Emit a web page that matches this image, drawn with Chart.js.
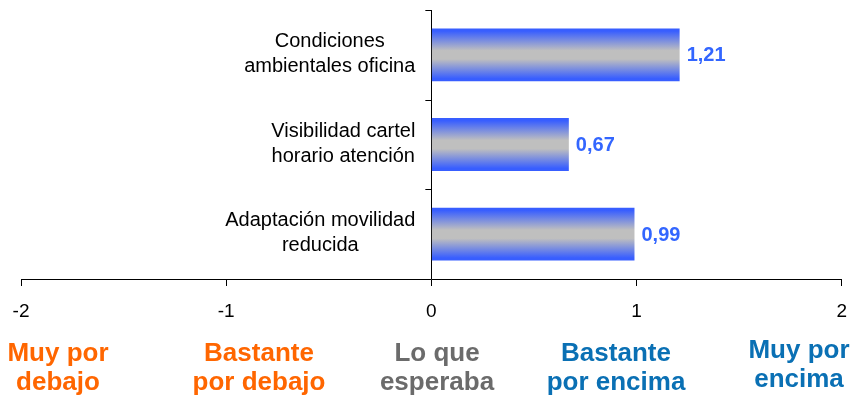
<!DOCTYPE html>
<html lang="es">
<head>
<meta charset="utf-8">
<title>Valoración de las instalaciones</title>
<script src="https://cdn.jsdelivr.net/npm/chart.js@4.4.1/dist/chart.umd.min.js"></script>
<style>
  html, body { margin: 0; padding: 0; background: #fff; }
  #grafico { display: block; }
</style>
</head>
<body>
<canvas id="grafico" width="858" height="397"></canvas>
<script>
  "use strict";

  // datos
  const categorias = [
    ["Condiciones", "ambientales oficina"],
    ["Visibilidad cartel", "horario atención"],
    ["Adaptación movilidad", "reducida"]
  ];
  const valores = [1.21, 0.67, 0.99];
  const marcasX = [-2, -1, 0, 1, 2];
  const escala = [
    ["Muy por", "debajo"],
    ["Bastante", "por debajo"],
    ["Lo que", "esperaba"],
    ["Bastante", "por encima"],
    ["Muy por", "encima"]
  ];

  // estilo
  const FUENTE = "'Liberation Sans', Arial, sans-serif";
  const AZUL = "#385eff";
  const GRIS = "#bfbfbf";
  const GROSOR = 0.59;
  const coloresEscala = ["#ff6600", "#ff6600", "#6b6b6b", "#0a70b4", "#0a70b4"];
  const posEscala = [58, 259, 437, 616, 799];

  // degradado vertical de cada barra: azul - gris - azul
  function degradado(ctx) {
    const chart = ctx.chart;
    const area = chart.chartArea;
    const y = chart.scales.y;
    if (!area || !y || ctx.dataIndex === undefined) return AZUL;
    const centro = y.getPixelForValue(ctx.dataIndex);
    const alto = (area.bottom - area.top) / valores.length * GROSOR;
    const g = chart.ctx.createLinearGradient(0, centro - alto / 2, 0, centro + alto / 2);
    g.addColorStop(0, AZUL);
    g.addColorStop(0.05, AZUL);
    g.addColorStop(0.42, GRIS);
    g.addColorStop(0.58, GRIS);
    g.addColorStop(0.95, AZUL);
    g.addColorStop(1, AZUL);
    return g;
  }

  // etiquetas de categoría, valores, rayitas del eje vertical y escala verbal
  const extras = {
    id: "extras",
    afterDatasetsDraw(chart) {
      const c = chart.ctx;
      const x = chart.scales.x;
      const y = chart.scales.y;
      const x0 = x.getPixelForValue(0);

      // rayitas entre categorías
      c.save();
      c.strokeStyle = "#000";
      c.lineWidth = 1;
      for (let i = 0; i <= categorias.length; i++) {
        const py = Math.round(y.getPixelForValue(i - 0.5)) + 0.5;
        c.beginPath();
        c.moveTo(x0 - 6, py);
        c.lineTo(x0, py);
        c.stroke();
      }

      // nombres de categoría (bloque alineado a la derecha, líneas centradas)
      c.font = "20px " + FUENTE;
      c.fillStyle = "#000";
      c.textAlign = "center";
      c.textBaseline = "middle";
      categorias.forEach(function (lineas, i) {
        const ancho = Math.max.apply(null, lineas.map(function (l) { return c.measureText(l).width; }));
        const cx = x0 - 16 - ancho / 2;
        const cy = y.getPixelForValue(i) - 1;
        const salto = 25;
        lineas.forEach(function (l, j) {
          c.fillText(l, cx, cy + (j - (lineas.length - 1) / 2) * salto);
        });
      });

      // valor al final de cada barra
      c.font = "bold 20px " + FUENTE;
      c.fillStyle = "#3366ff";
      c.textAlign = "left";
      const meta = chart.getDatasetMeta(0);
      meta.data.forEach(function (bar, i) {
        const texto = valores[i].toFixed(2).replace(".", ",");
        c.fillText(texto, bar.x + 7, bar.y + 1);
      });

      // escala verbal bajo el eje
      c.font = "bold 26px " + FUENTE;
      c.textAlign = "center";
      c.textBaseline = "alphabetic";
      escala.forEach(function (lineas, i) {
        c.fillStyle = coloresEscala[i];
        const base = i === 4 ? 358 : 361;
        lineas.forEach(function (l, j) {
          c.fillText(l, posEscala[i], base + j * 29);
        });
      });
      c.restore();
    }
  };

  new Chart(document.getElementById("grafico"), {
    type: "bar",
    data: {
      labels: categorias.map(function (l) { return l.join(" "); }),
      datasets: [{
        data: valores,
        backgroundColor: degradado,
        borderWidth: 0,
        barPercentage: GROSOR,
        categoryPercentage: 1
      }]
    },
    options: {
      indexAxis: "y",
      responsive: false,
      animation: false,
      layout: { padding: { left: 21, right: 16, top: 10, bottom: 0 } },
      plugins: {
        legend: { display: false },
        tooltip: { enabled: false }
      },
      scales: {
        x: {
          type: "linear",
          min: marcasX[0],
          max: marcasX[marcasX.length - 1],
          afterBuildTicks: function (scale) {
            scale.ticks = marcasX.map(function (v) { return { value: v }; });
          },
          afterFit: function (scale) { scale.height = 118; },
          ticks: {
            color: "#000",
            font: { family: FUENTE, size: 19, lineHeight: 1.55 },
            padding: 11,
            maxRotation: 0
          },
          grid: {
            color: function (ctx) {
              return ctx.tick && ctx.tick.value === 0 ? "#000" : "rgba(0,0,0,0)";
            },
            tickColor: "#000",
            tickLength: 7,
            lineWidth: 1
          },
          border: { display: true, color: "#000", width: 1 }
        },
        y: {
          display: false,
          offset: true
        }
      }
    },
    plugins: [extras]
  });
</script>
</body>
</html>
